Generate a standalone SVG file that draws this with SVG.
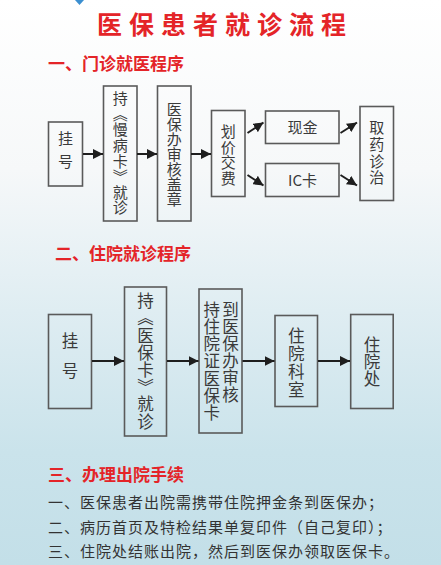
<svg xmlns="http://www.w3.org/2000/svg" width="441" height="565" viewBox="0 0 441 565">
<defs>
<linearGradient id="bg" x1="0" y1="0" x2="0" y2="1">
<stop offset="0" stop-color="#ffffff"/>
<stop offset="0.3" stop-color="#f6f8f9"/>
<stop offset="0.55" stop-color="#dfedf2"/>
<stop offset="0.8" stop-color="#cae3eb"/>
<stop offset="1" stop-color="#c3dfe8"/>
</linearGradient>
<marker id="ah" viewBox="0 0 10 10" refX="10" refY="5" markerWidth="10" markerHeight="10" markerUnits="userSpaceOnUse" orient="auto">
<path d="M0,0 L10,5 L0,10 z" fill="#1e1e1e"/>
</marker>
<style>
.box{fill:none;stroke:#5a5a5a;stroke-width:1.6}
.v{font-family:"Noto Sans CJK SC","Noto Sans",sans-serif;fill:#3a3a3a;writing-mode:vertical-rl;text-anchor:middle}
.h{font-family:"Noto Sans CJK SC","Noto Sans",sans-serif;fill:#3a3a3a;text-anchor:middle;font-size:15px}
.s1{font-size:15px}
.s2{font-size:16.5px}
.head{font-family:"Noto Sans CJK SC","Noto Sans",sans-serif;fill:#e42428;font-weight:bold;font-size:17px}
.title{font-family:"Noto Sans CJK SC","Noto Sans",sans-serif;fill:#e42428;font-weight:bold;font-size:25px;letter-spacing:7px}
.body{font-family:"Noto Sans CJK SC","Noto Sans",sans-serif;fill:#333;font-size:15px;letter-spacing:1px}
.arr{stroke:#1e1e1e;stroke-width:2;fill:none;marker-end:url(#ah)}
</style>
</defs>
<rect x="0" y="0" width="441" height="565" fill="url(#bg)"/>
<path d="M75,0 L84,0 L79.5,5 z" fill="#3b8fd0"/>
<text class="title" x="225" y="34" text-anchor="middle">医保患者就诊流程</text>
<text class="head" x="48" y="70">一、门诊就医程序</text>
<text class="head" x="55" y="260">二、住院就诊程序</text>
<text class="head" x="48" y="481">三、办理出院手续</text>

<g id="n1-guahao"><rect class="box" x="48.5" y="122" width="34" height="64"/><text class="v s1" x="65.5" y="153.5" style="letter-spacing:8px">挂号</text></g>
<g id="n1-chi"><rect class="box" x="103.5" y="86" width="33.5" height="135"/><text class="v s1" x="120.2" y="153.5" style="letter-spacing:0.6px">持《慢病卡》就诊</text></g>
<g id="n1-yibao"><rect class="box" x="157.5" y="86" width="33.5" height="135"/><text class="v s1" x="174.2" y="154.3">医保办审核盖章</text></g>
<g id="n1-huajia"><rect class="box" x="211.5" y="110.5" width="33.5" height="86"/><text class="v s1" x="228.2" y="155" style="letter-spacing:0.5px">划价交费</text></g>
<g id="n1-xianjin"><rect class="box" x="265.5" y="111" width="73.5" height="32.5"/><text class="h" x="302.5" y="132.5">现金</text></g>
<g id="n1-ic"><rect class="box" x="265.5" y="163.5" width="73.5" height="33"/><text class="h" x="302.5" y="185.5">IC卡</text></g>
<g id="n1-quyao"><rect class="box" x="360" y="106.5" width="33.5" height="94"/><text class="v s1" x="376.7" y="153.5" style="letter-spacing:1.7px">取药诊治</text></g>

<g id="n2-guahao"><rect class="box" x="48.5" y="314.5" width="43" height="94"/><text class="v s2" x="70" y="362" style="letter-spacing:13.5px">挂号</text></g>
<g id="n2-chi"><rect class="box" x="124.5" y="287" width="42" height="149"/><text class="v s2" x="145.5" y="361.5" style="letter-spacing:0.7px">持《医保卡》就诊</text></g>
<g id="n2-zhuyuanzheng"><rect class="box" x="199" y="289" width="43" height="144"/><text class="v s2" x="211.7" y="361.5" style="letter-spacing:0.6px">持住院证医保卡</text><text class="v s2" x="230.5" y="352.5" style="letter-spacing:0.6px">到医保办审核</text></g>
<g id="n2-keshi"><rect class="box" x="275" y="315.5" width="42.5" height="91"/><text class="v s2" x="296.2" y="363.5" style="letter-spacing:1.3px">住院科室</text></g>
<g id="n2-chu"><rect class="box" x="350.7" y="314.5" width="42.5" height="94"/><text class="v s2" x="372" y="362" style="letter-spacing:0.4px">住院处</text></g>

<g id="connectors">
<line class="arr" x1="83" y1="154" x2="103" y2="154"/>
<line class="arr" x1="137" y1="154" x2="157" y2="154"/>
<line class="arr" x1="191" y1="154" x2="211" y2="154"/>
<line class="arr" x1="247.5" y1="133" x2="263.5" y2="122.5"/>
<line class="arr" x1="247.5" y1="175" x2="263.5" y2="185.5"/>
<line class="arr" x1="340.5" y1="133" x2="357" y2="122.5"/>
<line class="arr" x1="340.5" y1="175" x2="357" y2="185.5"/>
<line class="arr" x1="92" y1="361" x2="124" y2="361"/>
<line class="arr" x1="167" y1="361" x2="198.5" y2="361"/>
<line class="arr" x1="242.5" y1="361" x2="274.5" y2="361"/>
<line class="arr" x1="318" y1="361" x2="350" y2="361"/>
</g>

<text class="body" x="48" y="508">一、医保患者出院需携带住院押金条到医保办；</text>
<text class="body" x="48" y="532.5">二、病历首页及特检结果单复印件（自己复印）；</text>
<text class="body" x="48" y="557">三、住院处结账出院，然后到医保办领取医保卡。</text>
</svg>
